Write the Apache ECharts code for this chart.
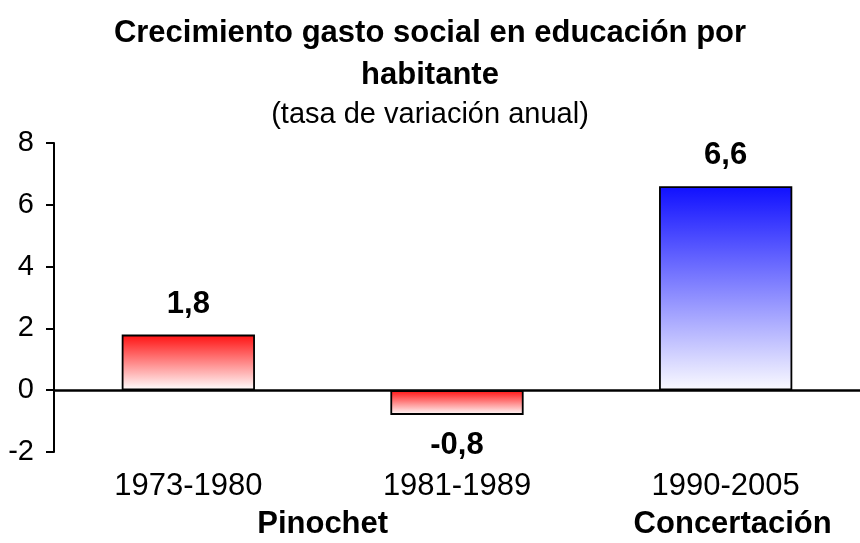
<!DOCTYPE html>
<html>
<head>
<meta charset="utf-8">
<script src="https://cdn.jsdelivr.net/npm/echarts@6/dist/echarts.min.js"></script>
<style>
  html, body { margin: 0; padding: 0; background: #fff; }
  #chart { width: 860px; height: 543px; }
</style>
</head>
<body>
<div id="chart"></div>
<script>
// Periods and annual growth rate of per-capita social spending on education
const periods = ['1973-1980', '1981-1989', '1990-2005'];
const growth = [1.8, -0.8, 6.6];
// Government eras: label and the periods each one covers
const eras = ['Pinochet', 'Concertación'];
const eraPeriods = [[0, 1], [2]];
const yTicks = { min: -2, max: 8, interval: 2 };

const FONT = '"Liberation Sans", Arial, sans-serif';

const redFill = new echarts.graphic.LinearGradient(0, 0, 0, 1, [
  { offset: 0, color: '#ff1010' },
  { offset: 1, color: '#ffffff' }
]);
const blueFill = new echarts.graphic.LinearGradient(0, 0, 0, 1, [
  { offset: 0, color: '#1010ff' },
  { offset: 1, color: '#fafaff' }
]);
const fills = [redFill, redFill, blueFill];

const chart = echarts.init(document.getElementById('chart'), null, { renderer: 'canvas' });

const option = {
  animation: false,
  backgroundColor: '#ffffff',
  title: {
    left: 'center',
    top: 7,
    text: 'Crecimiento gasto social en educación por\nhabitante',
    subtext: '(tasa de variación anual)',
    itemGap: 4,
    textStyle: { fontFamily: FONT, fontSize: 31, fontWeight: 'bold', color: '#000', lineHeight: 42 },
    subtextStyle: { fontFamily: FONT, fontSize: 29, color: '#000', lineHeight: 30 }
  },
  grid: { left: 54, right: -4, top: 143, bottom: 91 },
  xAxis: {
    type: 'category',
    data: periods,
    axisLine: { show: false, onZero: false },
    axisTick: { show: false },
    axisLabel: { fontFamily: FONT, fontSize: 31, color: '#000', margin: 19 }
  },
  yAxis: {
    type: 'value',
    min: yTicks.min,
    max: yTicks.max,
    interval: yTicks.interval,
    axisLine: { show: true, lineStyle: { color: '#000', width: 2 } },
    axisTick: { show: true, length: 8, lineStyle: { color: '#000', width: 2 } },
    splitLine: { show: false },
    axisLabel: { fontFamily: FONT, fontSize: 29, color: '#000', margin: 20 }
  },
  series: [{
    type: 'bar',
    barWidth: '49.6%',
    data: growth.map((v, i) => ({
      value: v,
      itemStyle: { color: fills[i], borderColor: '#000', borderWidth: 1.8 },
      label: { position: v < 0 ? 'bottom' : 'top' }
    })),
    label: {
      show: true,
      distance: 15,
      fontFamily: FONT,
      fontSize: 31,
      fontWeight: 'bold',
      color: '#000',
      formatter: p => String(p.value).replace('.', ',')
    },
    markLine: {
      silent: true,
      symbol: 'none',
      label: { show: false },
      lineStyle: { color: '#000', width: 2.5, type: 'solid' },
      data: [{ yAxis: 0 }]
    }
  }]
};

chart.setOption(option);

// Era names sit under the period labels, centred on the periods they span
const eraGraphics = eras.map((name, k) => {
  const xs = eraPeriods[k].map(i => chart.convertToPixel({ xAxisIndex: 0 }, periods[i]));
  const cx = (Math.min(...xs) + Math.max(...xs)) / 2;
  return {
    type: 'text',
    x: cx + (k === 1 ? 7 : 0),
    y: 524,
    style: {
      text: name,
      fontFamily: FONT,
      fontSize: 31,
      fontWeight: 'bold',
      fill: '#000',
      align: 'center',
      verticalAlign: 'middle'
    }
  };
});
chart.setOption({ graphic: eraGraphics });
</script>
</body>
</html>
